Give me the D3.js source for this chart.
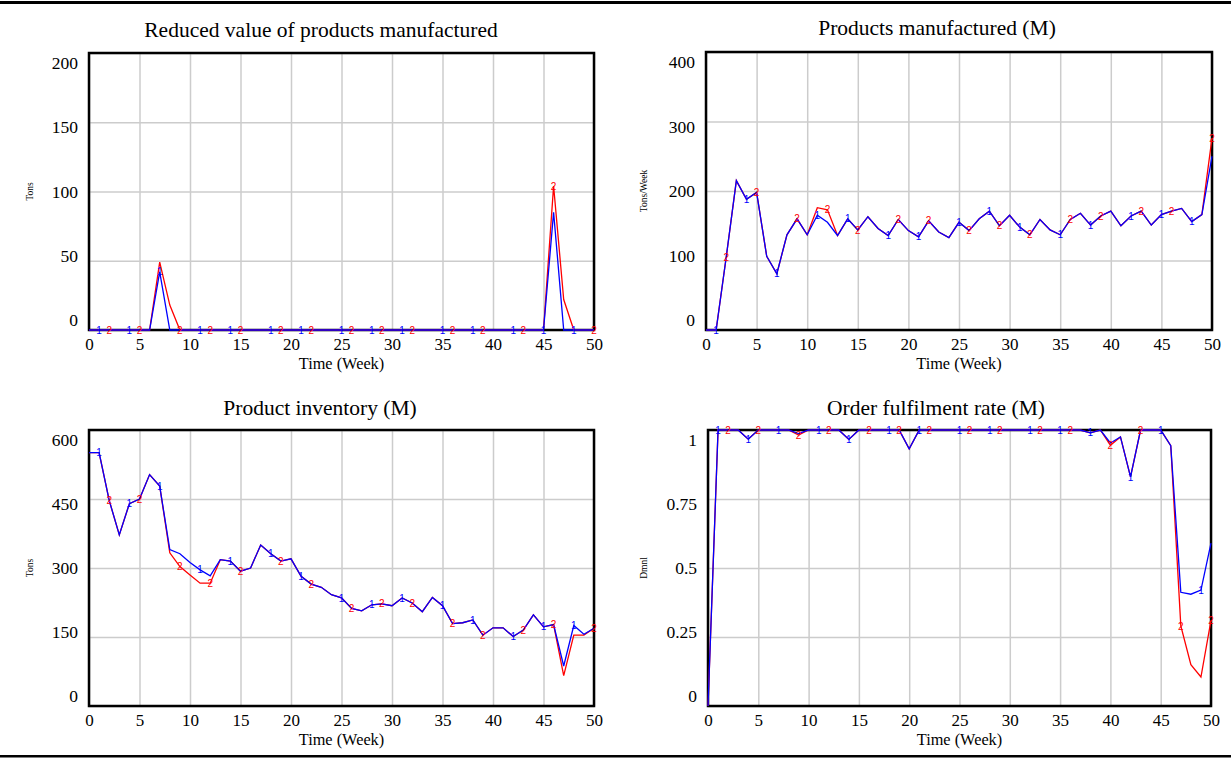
<!DOCTYPE html>
<html>
<head>
<meta charset="utf-8">
<script src="https://cdn.jsdelivr.net/npm/d3@7"></script>
<style>
body { margin: 0; background: #fff; }
svg text { font-family: "Liberation Serif", "Times New Roman", serif; fill: #000; }
.grid line { stroke: #cccccc; stroke-width: 1.5; }
.grid path { display: none; }
.ticks path { display: none; }
</style>
</head>
<body>
<svg width="1231" height="765"></svg>
<script>
// time axis (weeks) and tick labels
var weeks = d3.range(0, 51);
var xTicks = [0, 5, 10, 15, 20, 25, 30, 35, 40, 45, 50];

// Reduced value of products manufactured (Tons)
var reducedTicks = [0, 50, 100, 150, 200];
var reduced1 = [0,0,0,0,0,0,0,42,0,0, 0,0,0,0,0,0,0,0,0,0, 0,0,0,0,0,0,0,0,0,0,
                0,0,0,0,0,0,0,0,0,0, 0,0,0,0,0,0,85,0,0,0, 0];
var reduced2 = [0,0,0,0,0,0,0,49,18,0, 0,0,0,0,0,0,0,0,0,0, 0,0,0,0,0,0,0,0,0,0,
                0,0,0,0,0,0,0,0,0,0, 0,0,0,0,0,0,104,22,0,0, 0];

// Products manufactured (Tons/Week)
var manufTicks = [0, 100, 200, 300, 400];
var manuf1 = [0,0,105,215,188,198,106,81,137,160, 137,165,155,136,160,144,163,146,136,159,
              143,134,157,141,133,155,143,160,171,150, 165,148,137,159,144,137,159,168,151,164,
              171,150,164,171,151,166,171,175,156,166, 250];
var manuf2 = [0,0,105,215,188,198,106,81,137,160, 137,176,173,136,160,144,163,146,136,159,
              143,134,157,141,133,155,143,160,171,150, 165,148,137,159,144,137,159,168,151,164,
              171,150,164,171,151,166,171,175,156,166, 276];

// Product inventory (Tons)
var invTicks = [0, 150, 300, 450, 600];
var inv1 = [551,551,447,372,440,450,503,478,340,331, 312,296,283,318,315,293,300,350,331,315,
            320,282,265,258,242,235,212,207,220,222, 218,235,224,205,236,218,179,181,187,154,
            170,170,151,165,198,172,177,87,175,156, 169];
var inv2 = [551,551,447,372,440,450,503,478,333,303, 285,267,267,318,315,293,300,350,331,315,
            320,282,265,258,242,235,212,207,220,222, 218,235,224,205,236,218,179,181,187,154,
            170,170,151,165,198,172,177,66,154,154, 169];

// Order fulfilment rate (Dmnl)
var fulfilTicks = [0, 0.25, 0.5, 0.75, 1];
var fulfilLabels = ["0", "0.25", "0.5", "0.75", "1"];
var fulfil1 = [0,1,1,1,0.967,1,1,1,1,0.987, 1,1,1,1,0.966,1,1,1,1,1,
               0.932,1,1,1,1,1,1,1,1,1, 1,1,1,1,1,1,1,1,0.99,1,
               0.953,0.975,0.83,1,1,1,0.943,0.412,0.405,0.42, 0.59];
var fulfil2 = [0,1,1,1,0.967,1,1,1,1,0.982, 1,1,1,1,0.966,1,1,1,1,1,
               0.932,1,1,1,1,1,1,1,1,1, 1,1,1,1,1,1,1,1,0.99,1,
               0.945,0.975,0.83,1,1,1,0.943,0.29,0.15,0.105, 0.31];

// weeks where the "1" / "2" run markers sit
var marks1 = [1,4,7,11,14,18,21,25,28,31,35,38,42,45,48];
var marks2 = [2,5,9,12,15,19,22,26,29,32,36,39,43,46,50];
var marks1b = [1,4,7,11,14,18,21,25,28,32,35,38,42,45,49];
var marks2b = [2,5,9,12,16,19,22,26,29,33,36,40,43,47,50];

var svg = d3.select("svg");

// rules above and below the figure
svg.append("rect").attr("x", 0).attr("y", 1).attr("width", 1231).attr("height", 3).attr("fill", "#000");
svg.append("rect").attr("x", 0).attr("y", 755).attr("width", 1231).attr("height", 2.5).attr("fill", "#000");

var panels = [
  {title: "Reduced value of products manufactured", unit: "Tons", s1: reduced1, s2: reduced2,
   ticks: reducedTicks, labels: null, max: 200, m1: marks1, m2: marks2,
   left: 89, right: 594, top: 53, bottom: 330, titleX: 321, titleY: 37, unitX: 30},
  {title: "Products manufactured (M)", unit: "Tons/Week", s1: manuf1, s2: manuf2,
   ticks: manufTicks, labels: null, max: 400, m1: marks1, m2: marks2,
   left: 706, right: 1212, top: 52, bottom: 330, titleX: 937, titleY: 35, unitX: 644},
  {title: "Product inventory (M)", unit: "Tons", s1: inv1, s2: inv2,
   ticks: invTicks, labels: null, max: 600, m1: marks1, m2: marks2,
   left: 89, right: 594, top: 430, bottom: 706, titleX: 320, titleY: 415, unitX: 30},
  {title: "Order fulfilment rate (M)", unit: "Dmnl", s1: fulfil1, s2: fulfil2,
   ticks: fulfilTicks, labels: fulfilLabels, max: 1, m1: marks1b, m2: marks2b,
   left: 708, right: 1211, top: 430, bottom: 706, titleX: 936, titleY: 415, unitX: 644}
];

panels.forEach(drawPanel);

function drawPanel(p) {
  var w = p.right - p.left, h = p.bottom - p.top;
  var x = d3.scaleLinear().domain([0, 50]).range([p.left, p.right]);
  var y = d3.scaleLinear().domain([0, p.max]).range([p.bottom, p.top]);
  // Vensim puts the value labels inside the end gridlines
  var yLab = d3.scaleLinear().domain([0, p.max]).range([p.bottom - 10, p.top + 10]);

  // gridlines
  svg.append("g").attr("class", "grid")
    .attr("transform", "translate(0," + p.bottom + ")")
    .call(d3.axisBottom(x).tickValues(xTicks).tickSize(-h).tickFormat(""));
  svg.append("g").attr("class", "grid")
    .attr("transform", "translate(" + p.left + ",0)")
    .call(d3.axisLeft(y).tickValues(p.ticks).tickSize(-w).tickFormat(""));

  var line = d3.line()
    .x(function(d, i) { return x(weeks[i]); })
    .y(function(d) { return y(d); });

  // frame
  svg.append("rect").attr("x", p.left).attr("y", p.top).attr("width", w).attr("height", h)
    .attr("fill", "none").attr("stroke", "#000").attr("stroke-width", 2.5);

  svg.append("path").datum(p.s2).attr("d", line)
    .attr("fill", "none").attr("stroke", "#ff0000").attr("stroke-width", 1.3);
  svg.append("path").datum(p.s1).attr("d", line)
    .attr("fill", "none").attr("stroke", "#0000ff").attr("stroke-width", 1.3);

  // run markers
  svg.selectAll(null).data(p.m2).enter().append("text")
    .attr("x", function(t) { return x(t); })
    .attr("y", function(t) { return y(p.s2[t]); })
    .attr("dy", "0.36em")
    .attr("text-anchor", "middle")
    .style("font-family", "'Liberation Sans', Arial, sans-serif")
    .style("font-size", "10px")
    .style("fill", "#ff0000")
    .text("2");
  svg.selectAll(null).data(p.m1).enter().append("text")
    .attr("x", function(t) { return x(t); })
    .attr("y", function(t) { return y(p.s1[t]); })
    .attr("dy", "0.36em")
    .attr("text-anchor", "middle")
    .style("font-family", "'Liberation Sans', Arial, sans-serif")
    .style("font-size", "10px")
    .style("fill", "#0000ff")
    .text("1");

  // axis labels
  var xa = svg.append("g").attr("class", "ticks")
    .attr("transform", "translate(0," + p.bottom + ")")
    .call(d3.axisBottom(x).tickValues(xTicks).tickSize(0).tickPadding(8));
  xa.selectAll("text").style("font-size", "17px");

  var ya = svg.append("g").attr("class", "ticks")
    .attr("transform", "translate(" + p.left + ",0)")
    .call(d3.axisLeft(yLab).tickValues(p.ticks).tickSize(0).tickPadding(11)
      .tickFormat(function(d, i) { return p.labels ? p.labels[i] : d; }));
  ya.selectAll("text").style("font-size", "17.5px");

  svg.append("text")
    .attr("x", (p.left + p.right) / 2)
    .attr("y", p.bottom + 39)
    .attr("text-anchor", "middle")
    .style("font-size", "16.3px")
    .text("Time (Week)");

  svg.append("text")
    .attr("transform", "translate(" + p.unitX + "," + (p.top + h / 2) + ") rotate(-90)")
    .attr("dy", "0.35em")
    .attr("text-anchor", "middle")
    .style("font-size", "9.5px")
    .text(p.unit);

  svg.append("text")
    .attr("x", p.titleX)
    .attr("y", p.titleY)
    .attr("text-anchor", "middle")
    .style("font-size", "21.5px")
    .text(p.title);
}
</script>
</body>
</html>
